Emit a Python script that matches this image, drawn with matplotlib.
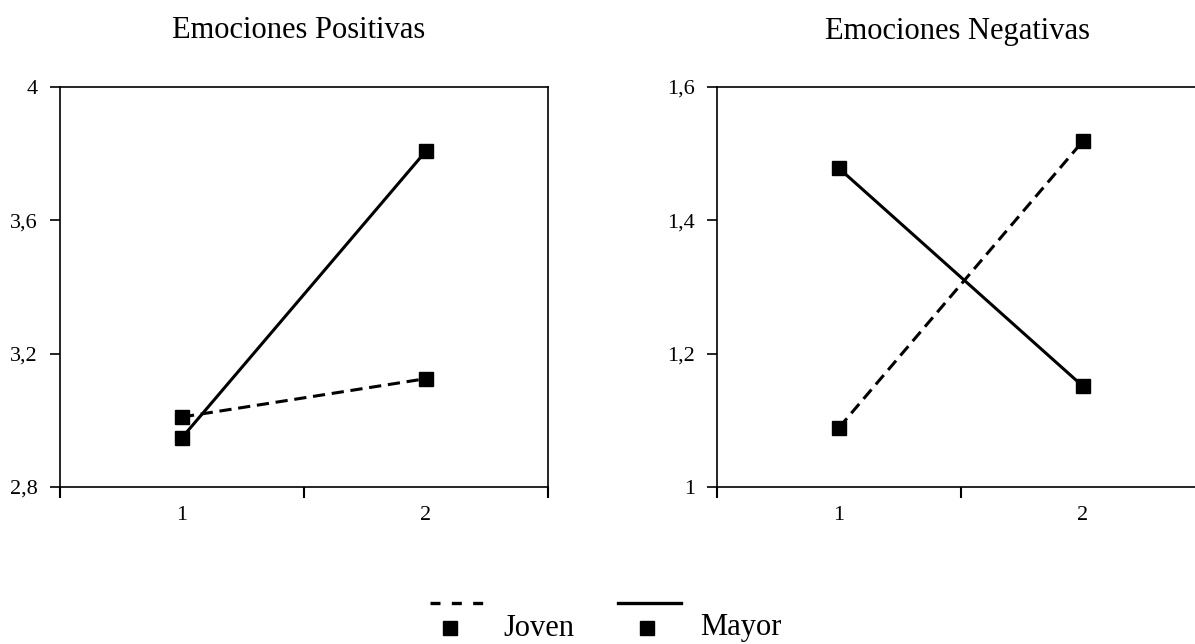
import matplotlib
matplotlib.use("Agg")
import matplotlib.pyplot as plt

plt.rcParams["font.family"] = ["Liberation Serif", "DejaVu Serif"]

# data
grupos = [1, 2]
pos_joven = [3.01, 3.125]
pos_mayor = [2.948, 3.808]
neg_joven = [1.089, 1.519]
neg_mayor = [1.478, 1.151]

pos_ticks = [2.8, 3.2, 3.6, 4.0]
pos_labels = ["2,8", "3,2", "3,6", "4"]
neg_ticks = [1.0, 1.2, 1.4, 1.6]
neg_labels = ["1", "1,2", "1,4", "1,6"]

DASH = (0, (4, 2.2))
W, H = 1195, 644

fig = plt.figure(figsize=(W / 100, H / 100), dpi=100)


def panel(rect, joven, mayor, yt, yl, title, title_dx):
    ax = fig.add_axes(rect)
    ax.plot(grupos, joven, color="black", lw=2.2, ls=DASH, marker="s",
            ms=10, mfc="black", mec="black", zorder=3)
    ax.plot(grupos, mayor, color="black", lw=2.2, ls="-", marker="s",
            ms=10, mfc="black", mec="black", zorder=3)
    ax.set_xlim(0.5, 2.5)
    ax.set_ylim(yt[0], yt[-1])
    ax.set_yticks(yt)
    ax.set_yticklabels(yl, fontsize=16)
    ax.tick_params(axis="y", direction="out", length=7, width=1.2, pad=9)
    # ticks sit between categories, labels at the categories
    ax.set_xticks([0.5, 1.5, 2.5])
    ax.set_xticklabels([])
    ax.tick_params(axis="x", which="major", direction="out", length=8, width=1.5)
    ax.set_xticks(grupos, minor=True)
    ax.set_xticklabels([str(g) for g in grupos], minor=True, fontsize=16)
    ax.tick_params(axis="x", which="minor", length=0, pad=14)
    for s in ax.spines.values():
        s.set_linewidth(1.2)
    ax.text(0.5 + title_dx, 1.14, title, transform=ax.transAxes,
            ha="center", va="center", fontsize=22)
    return ax


ax1 = panel([60 / W, 1 - 487 / H, 488 / W, 400 / H], pos_joven, pos_mayor,
            pos_ticks, pos_labels, "Emociones Positivas", -0.012)
ax2 = panel([717 / W, 1 - 487 / H, 488 / W, 400 / H], neg_joven, neg_mayor,
            neg_ticks, neg_labels, "Emociones Negativas", -0.008)

# legend, Excel style: line sample above the marker
lg = fig.add_axes([0, 0, 1, 1])
lg.set_xlim(0, W)
lg.set_ylim(H, 0)
lg.axis("off")
lg.plot([430, 483], [603, 603], color="black", lw=2.4, ls=(0, (3, 3.4)),
        solid_capstyle="butt", dash_capstyle="butt")
lg.plot([450], [628], "s", color="black", ms=10)
lg.text(503, 628, "Joven", fontsize=22, va="center", ha="left")
lg.plot([618, 681], [603, 603], color="black", lw=2.4, ls="-")
lg.plot([647], [628], "s", color="black", ms=10)
lg.text(700, 628, "Mayor", fontsize=22, va="center", ha="left")

fig.savefig("out.png", dpi=100)
